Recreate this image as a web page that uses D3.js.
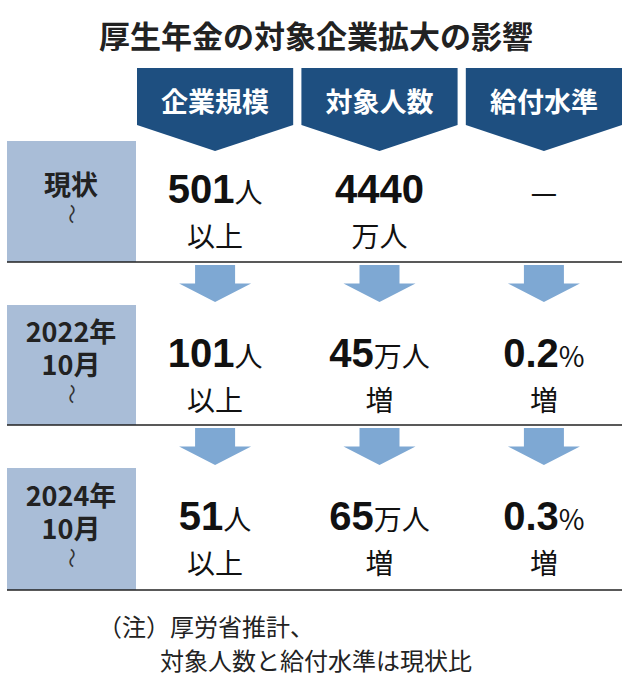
<!DOCTYPE html>
<html><head><meta charset="utf-8">
<script src="https://cdn.jsdelivr.net/npm/d3@7"></script>
<style>body{margin:0;background:#fff}</style>
</head><body>
<script>
// data
const title = "厚生年金の対象企業拡大の影響"
const columns = ["企業規模", "対象人数", "給付水準"]
const periods = [["現状"], ["2022年", "10月"], ["2024年", "10月"]]
const mainValues = [["501", "4440", "—"], ["101", "45", "0.2"], ["51", "65", "0.3"]]
const mainUnits = [["人", "", ""], ["人", "万人", "%"], ["人", "万人", "%"]]
const subLines = [["以上", "万人", ""], ["以上", "増", "増"], ["以上", "増", "増"]]
const notes = ["（注）厚労省推計、", "対象人数と給付水準は現状比"]

const W = 632, H = 682
const font = "'Noto Sans CJK JP', sans-serif"
const numFont = "'Liberation Sans', Arial, sans-serif"
const svg = d3.select("body").append("svg").attr("width", W).attr("height", H)
  .style("font-family", font)

const x = d3.scaleBand().domain(columns).range([137, 622]).paddingInner(0.05)
const rowTop = d3.scaleOrdinal().domain([0, 1, 2]).range([141, 305, 468])
const rowBottom = d3.scaleOrdinal().domain([0, 1, 2]).range([262, 425, 590])

svg.append("text").attr("x", W / 2).attr("y", 48).attr("text-anchor", "middle")
  .attr("font-size", 31).attr("font-weight", 700).attr("fill", "#222").text(title)

// header banners
columns.forEach(c => {
  const x0 = x(c), x1 = x0 + x.bandwidth(), cx = (x0 + x1) / 2
  svg.append("path").attr("fill", "#1e4f80")
    .attr("d", `M${x0},68H${x1}V125L${cx},151L${x0},125Z`)
  svg.append("text").attr("x", cx).attr("y", 112).attr("text-anchor", "middle")
    .attr("font-size", 27).attr("font-weight", 700).attr("fill", "#fff").text(c)
})

periods.forEach((p, i) => {
  const t = rowTop(i), b = rowBottom(i)
  svg.append("rect").attr("x", 7).attr("y", t).attr("width", 129).attr("height", b - t)
    .attr("fill", "#a9bdd7")
  const n = p.length + 1, lh = 33
  const cy = (t + b) / 2 - (n - 1) * lh / 2
  p.forEach((s, k) => {
    svg.append("text").attr("x", 71).attr("y", cy + k * lh + 10).attr("text-anchor", "middle")
      .attr("font-size", 27).attr("font-weight", 700).attr("fill", "#222").text(s)
  })
  svg.append("text").attr("text-anchor", "middle").attr("font-size", 20).attr("fill", "#333")
    .attr("transform", `translate(71,${cy + p.length * lh - 4}) rotate(90)`)
    .attr("dy", "0.35em").text("〜")
  svg.append("line").attr("x1", 7).attr("x2", 622).attr("y1", b).attr("y2", b)
    .attr("stroke", "#222").attr("stroke-width", 1.5)

  columns.forEach((c, j) => {
    const cx = x(c) + x.bandwidth() / 2
    const dash = mainValues[i][j] === "—"
    const tx = svg.append("text").attr("x", cx).attr("y", t + 62).attr("text-anchor", "middle")
      .attr("fill", "#111")
    tx.append("tspan").attr("font-size", dash ? 30 : 40).style("font-family", dash ? font : numFont)
      .attr("font-weight", dash ? 400 : 700).text(mainValues[i][j])
    tx.append("tspan").attr("font-size", 28).text(mainUnits[i][j])
    svg.append("text").attr("x", cx).attr("y", t + 106).attr("text-anchor", "middle")
      .attr("font-size", 28).attr("fill", "#111").text(subLines[i][j])
  })

  // arrows to next row
  if (i < periods.length - 1) {
    const a0 = b + 3, a1 = rowTop(i + 1) - 3
    columns.forEach(c => {
      const cx = x(c) + x.bandwidth() / 2, mid = a0 + (a1 - a0) * 0.5
      svg.append("path").attr("fill", "#7ea8d3")
        .attr("d", `M${cx - 20},${a0}H${cx + 20}V${mid}H${cx + 36}L${cx},${a1}L${cx - 36},${mid}H${cx - 20}Z`)
    })
  }
})

svg.append("text").attr("x", 98).attr("y", 636).attr("font-size", 24).attr("fill", "#222").text(notes[0])
svg.append("text").attr("x", 160).attr("y", 670).attr("font-size", 24).attr("fill", "#222").text(notes[1])
</script>
</body></html>
